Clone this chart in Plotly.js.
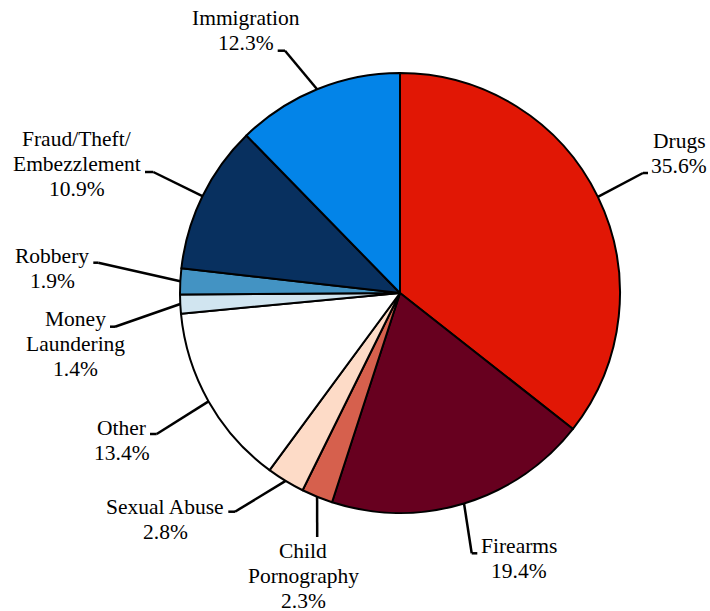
<!DOCTYPE html>
<html>
<head>
<meta charset="utf-8">
<script src="https://cdn.plot.ly/plotly-3.0.1.min.js"></script>
<style>
html,body{margin:0;padding:0;background:#fff;}
#chart{width:710px;height:611px;}
</style>
</head>
<body>
<div id="chart"></div>
<script>
// ---- data ----
const categories = ['Drugs','Firearms','Child Pornography','Sexual Abuse','Other','Money Laundering','Robbery','Fraud/Theft/Embezzlement','Immigration'];
const shares = [35.6, 19.4, 2.3, 2.8, 13.4, 1.4, 1.9, 10.9, 12.3];
const labelLines = [['Drugs'],['Firearms'],['Child','Pornography'],['Sexual Abuse'],['Other'],['Money','Laundering'],['Robbery'],['Fraud/Theft/','Embezzlement'],['Immigration']];
const colors = ['#E11705','#67001F','#D6604D','#FDDBC7','#FFFFFF','#D1E5F0','#4393C3','#08305F','#0384E8'];

// ---- layout config (pixels) ----
const W = 710, H = 611;
const CX = 400, CY = 293, R = 220;
const FS = 21.5, LINE = 25;
const FONT = 'Times New Roman, Liberation Serif, serif';
// label centre x, first baseline y, elbow point, tick end x
const labelPos = [
  {cx:679, b:148, ex:643, ey:173, tx:648},
  {cx:519, b:553, ex:471.7, ey:553.3, tx:477.3},
  {cx:303, b:558, ex:317.2, ey:537, tx:317.2},
  {cx:165, b:514, ex:235, ey:511.7, tx:228.3},
  {cx:121.5, b:435, ex:156.7, ey:434, tx:150},
  {cx:75, b:326.7, ex:115, ey:326.7, tx:110},
  {cx:52, b:263.3, ex:98.3, ey:262.7, tx:93.3},
  {cx:76.5, b:146, ex:153.3, ey:172, tx:145},
  {cx:246, b:25, ex:285, ey:50.7, tx:277.7}
];

const px = x => x / W;
const py = y => 1 - y / H;

const total = shares.reduce((a,b)=>a+b,0);
const shapes = [];
const annotations = [];
let cum = 0;
shares.forEach((v, i) => {
  const a = (cum + v/2) / total * 2 * Math.PI;
  cum += v;
  const sx = CX + R*Math.sin(a), sy = CY - R*Math.cos(a);
  const L = labelPos[i];
  const lineStyle = {color:'#000', width:2.5};
  shapes.push({type:'line', xref:'paper', yref:'paper', x0:px(sx), y0:py(sy), x1:px(L.ex), y1:py(L.ey), line:lineStyle});
  if (L.tx !== L.ex) shapes.push({type:'line', xref:'paper', yref:'paper', x0:px(L.ex), y0:py(L.ey), x1:px(L.tx), y1:py(L.ey), line:lineStyle});
  const lines = labelLines[i].concat([v.toFixed(1) + '%']);
  lines.forEach((t, k) => {
    annotations.push({
      xref:'paper', yref:'paper', x:px(L.cx), y:py(L.b + k*LINE - 7.3),
      xanchor:'center', yanchor:'middle', text:t, showarrow:false,
      font:{family:FONT, size:FS, color:'#000000'}
    });
  });
});

const trace = {
  type:'pie', labels:categories, values:shares,
  marker:{colors:colors, line:{color:'#000', width:2}},
  sort:false, direction:'clockwise', rotation:0,
  textinfo:'none', hoverinfo:'label+percent', showlegend:false,
  domain:{x:[px(CX-R), px(CX+R)], y:[py(CY+R), py(CY-R)]}
};

const layout = {
  width:W, height:H, margin:{l:0,r:0,t:0,b:0},
  paper_bgcolor:'#fff', plot_bgcolor:'#fff',
  font:{family:FONT, color:'#000'},
  showlegend:false, shapes:shapes, annotations:annotations
};

Plotly.newPlot('chart', [trace], layout, {displayModeBar:false, staticPlot:true});
</script>
</body>
</html>
